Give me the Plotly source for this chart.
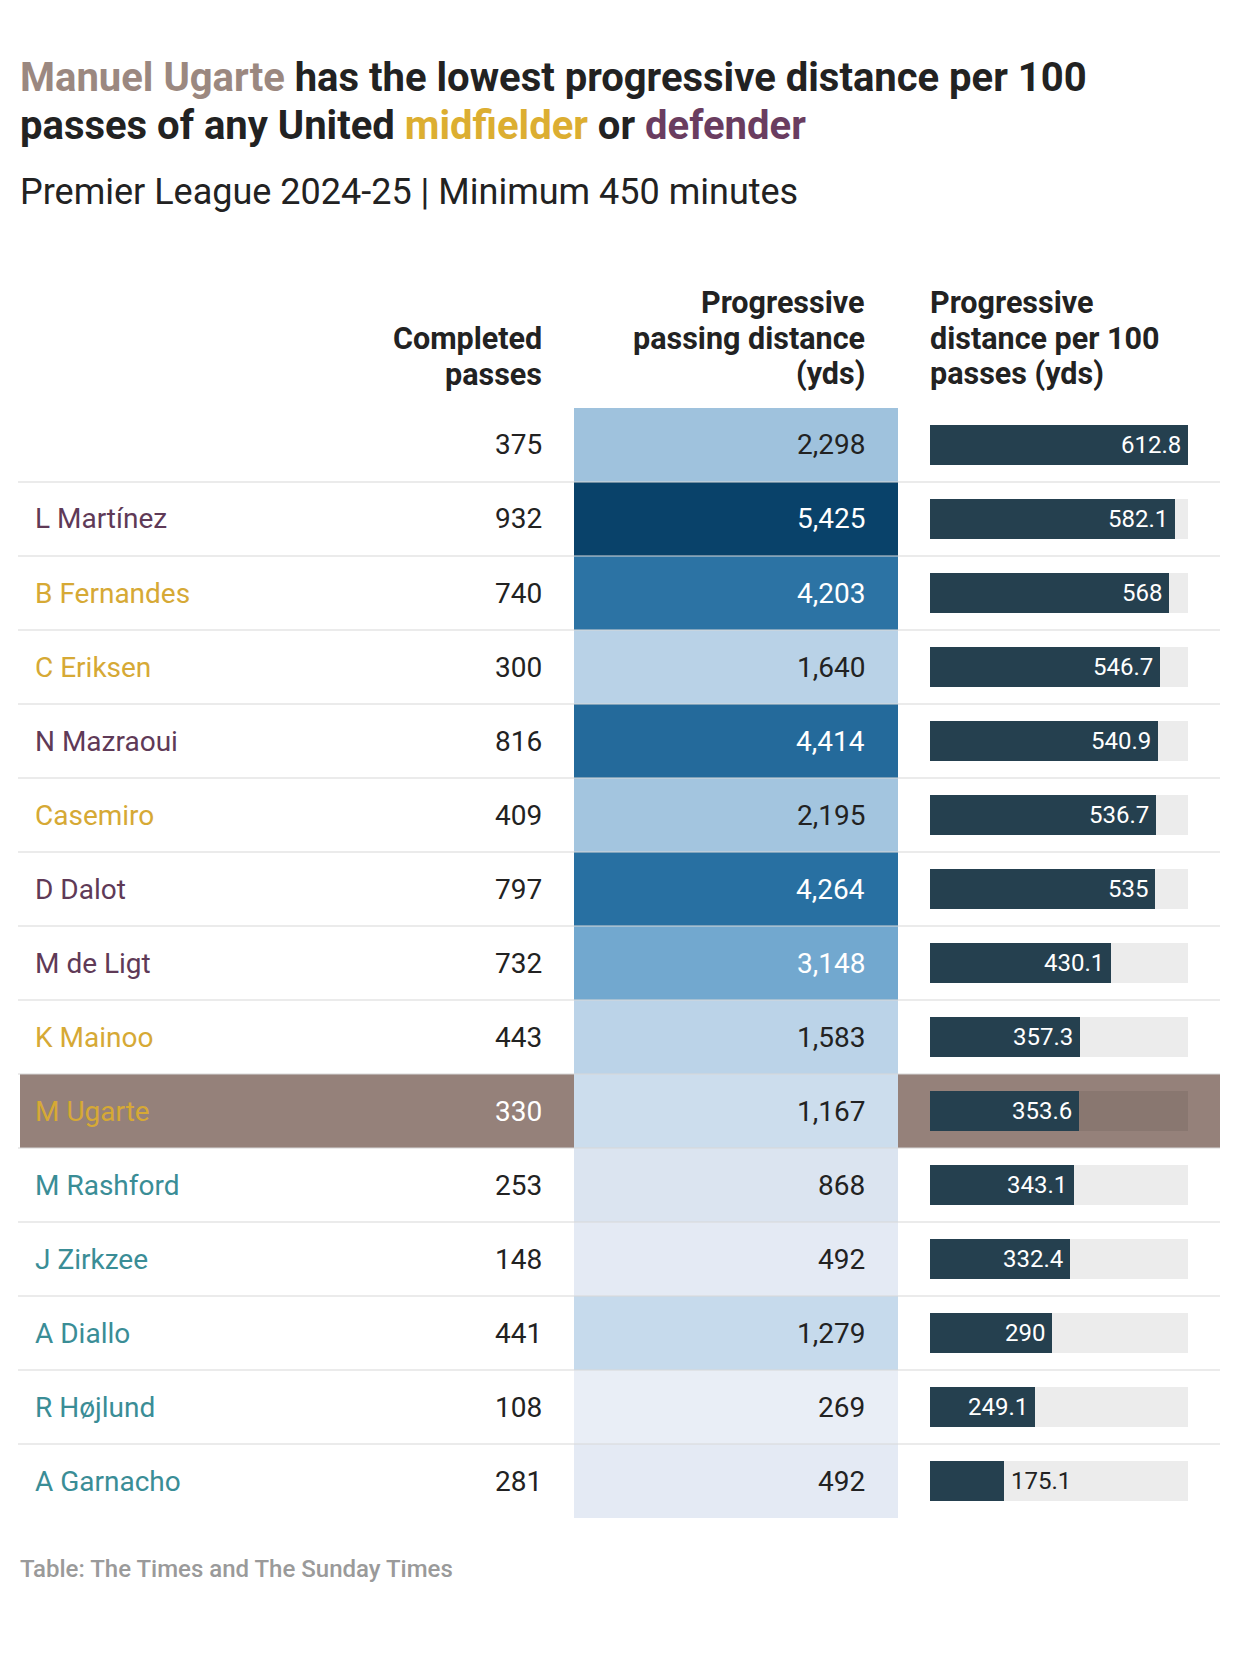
import plotly.graph_objects as go

# ---------------- data ----------------
players = ["", "L Martínez", "B Fernandes", "C Eriksen", "N Mazraoui", "Casemiro",
           "D Dalot", "M de Ligt", "K Mainoo", "M Ugarte", "M Rashford", "J Zirkzee",
           "A Diallo", "R Højlund", "A Garnacho"]
positions = ["defender", "defender", "midfielder", "midfielder", "defender", "midfielder",
             "defender", "defender", "midfielder", "midfielder", "forward", "forward",
             "forward", "forward", "forward"]
completed_passes = [375, 932, 740, 300, 816, 409, 797, 732, 443, 330, 253, 148, 441, 108, 281]
prog_distance = [2298, 5425, 4203, 1640, 4414, 2195, 4264, 3148, 1583, 1167, 868, 492, 1279, 269, 492]
prog_per100 = [612.8, 582.1, 568, 546.7, 540.9, 536.7, 535, 430.1, 357.3, 353.6, 343.1, 332.4, 290, 249.1, 175.1]
highlight_player = "M Ugarte"

title_line1 = ("<span style='color:#9b8880'>Manuel Ugarte</span> has the lowest "
               "progressive distance per 100")
title_line2 = ("passes of any United <span style='color:#dcae31'>midfielder</span> or "
               "<span style='color:#6a3d60'>defender</span>")
subtitle = "Premier League 2024-25 | Minimum 450 minutes"
header_completed = ["Completed", "passes"]
header_distance = ["Progressive", "passing distance", "(yds)"]
header_per100 = ["Progressive", "distance per 100", "passes (yds)"]
source = "Table: The Times and The Sunday Times"

# ---------------- styles ----------------
W, H = 1240, 1656
OFF = 8  # page body margin offset
FONT = "Roboto"
TEXT = "#222222"
role_colors = {"defender": "#5f3a57", "midfielder": "#d6a935", "forward": "#3a8d96"}
HL_BG = "#95817a"
BAR = "#25404f"
TRACK = "rgba(0,0,0,0.075)"
SEP = "rgba(215,215,215,0.5)"
heat_stops = [(269, "#e9eef6"), (868, "#dbe4f0"), (1279, "#c6daec"), (1640, "#b9d2e7"),
              (2298, "#9fc2dd"), (3148, "#72a8cf"), (4264, "#2870a2"), (5425, "#09426a")]

ROW_TOP, ROW_BOT = 408, 1518
X_NAME, X_COMP, X_DIST, X_BARHDR = 33, 544, 867, 928
n = len(players)
zmin, zmax = heat_stops[0][0], heat_stops[-1][0]
colorscale = [[(v - zmin) / (zmax - zmin), c] for v, c in heat_stops]


def dom_x(a, b):
    return [(a - OFF) / W, (b - OFF) / W]


fig = go.Figure()

# heatmap column
fig.add_trace(go.Heatmap(
    z=[[v] for v in prog_distance], x=[0], y=list(range(n)),
    xaxis="x2", yaxis="y2", colorscale=colorscale, zmin=zmin, zmax=zmax,
    showscale=False, hoverinfo="skip"))

# bar track + bars
bar_max = max(prog_per100)
fig.add_trace(go.Bar(x=[bar_max] * n, y=list(range(n)), orientation="h",
                     xaxis="x3", yaxis="y2", width=0.54, marker_color=TRACK,
                     marker_line_width=0, hoverinfo="skip"))
fig.add_trace(go.Bar(x=prog_per100, y=list(range(n)), orientation="h",
                     xaxis="x3", yaxis="y2", width=0.54, marker_color=BAR,
                     marker_line_width=0, hoverinfo="skip"))

shapes = []
ann = []

# highlight row
hi = players.index(highlight_player)
for x0, x1 in [(20, 574), (898, 1220)]:
    shapes.append(dict(type="rect", xref="x", yref="y2", x0=x0, x1=x1,
                       y0=hi - 0.5, y1=hi + 0.5, fillcolor=HL_BG, line_width=0,
                       layer="below"))
# separators
for i in range(n - 1):
    shapes.append(dict(type="line", xref="x", yref="y2", x0=18, x1=1220,
                       y0=i + 0.5, y1=i + 0.5, line=dict(color=SEP, width=2),
                       layer="above"))

# title / subtitle
ann.append(dict(text="<b>" + title_line1 + "</b>", x=18, y=77, xref="x", yref="y",
                xanchor="left", yanchor="middle", showarrow=False,
                font=dict(family=FONT, size=40, color=TEXT)))
ann.append(dict(text="<b>" + title_line2 + "</b>", x=18, y=125, xref="x", yref="y",
                xanchor="left", yanchor="middle", showarrow=False,
                font=dict(family=FONT, size=40, color=TEXT)))
ann.append(dict(text=subtitle, x=18, y=192, xref="x", yref="y",
                xanchor="left", yanchor="middle", showarrow=False,
                font=dict(family=FONT, size=36, color=TEXT)))

# headers
line_y = [302, 338, 374]
HS = 30.5
for k, t in enumerate(header_completed):
    ann.append(dict(text="<b>" + t + "</b>", x=X_COMP, y=line_y[k + 1], xref="x", yref="y",
                    xanchor="right", yanchor="middle", showarrow=False,
                    font=dict(family=FONT, size=HS, color=TEXT)))
for k, t in enumerate(header_distance):
    ann.append(dict(text="<b>" + t + "</b>", x=X_DIST, y=line_y[k], xref="x", yref="y",
                    xanchor="right", yanchor="middle", showarrow=False,
                    font=dict(family=FONT, size=HS, color=TEXT)))
for k, t in enumerate(header_per100):
    ann.append(dict(text="<b>" + t + "</b>", x=X_BARHDR, y=line_y[k], xref="x", yref="y",
                    xanchor="left", yanchor="middle", showarrow=False,
                    font=dict(family=FONT, size=HS, color=TEXT)))

# rows
BS = 28
for i in range(n):
    is_hi = players[i] == highlight_player
    ann.append(dict(text=players[i], x=X_NAME, y=i, xref="x", yref="y2",
                    xanchor="left", yanchor="middle", showarrow=False,
                    font=dict(family=FONT, size=BS, color=role_colors[positions[i]])))
    ann.append(dict(text=f"{completed_passes[i]:,}", x=X_COMP, y=i, xref="x", yref="y2",
                    xanchor="right", yanchor="middle", showarrow=False,
                    font=dict(family=FONT, size=BS, color="white" if is_hi else TEXT)))
    ann.append(dict(text=f"{prog_distance[i]:,}", x=X_DIST, y=i, xref="x", yref="y2",
                    xanchor="right", yanchor="middle", showarrow=False,
                    font=dict(family=FONT, size=BS,
                              color="white" if prog_distance[i] > 3000 else TEXT)))
    v = prog_per100[i]
    inside = v / bar_max > 0.33
    ann.append(dict(text=f"{v:g}", x=v, y=i, xref="x3", yref="y2",
                    xanchor="right" if inside else "left", xshift=-5 if inside else 5,
                    yanchor="middle", showarrow=False,
                    font=dict(family=FONT, size=24, color="white" if inside else TEXT)))

# source
ann.append(dict(text=source, x=18, y=1569, xref="x", yref="y",
                xanchor="left", yanchor="middle", showarrow=False,
                font=dict(family=FONT, size=24, color="#9a9a9a", weight=500)))

row_dom = [1 - (ROW_BOT - OFF) / H, 1 - (ROW_TOP - OFF) / H]
hidden = dict(visible=False, showgrid=False, zeroline=False, fixedrange=True)
fig.update_layout(
    width=W, height=H, margin=dict(l=0, r=0, t=0, b=0),
    paper_bgcolor="white", plot_bgcolor="rgba(0,0,0,0)",
    showlegend=False, barmode="overlay", bargap=0,
    xaxis=dict(range=[OFF, W + OFF], domain=[0, 1], **hidden),
    yaxis=dict(range=[H + OFF, OFF], domain=[0, 1], **hidden),
    xaxis2=dict(range=[-0.5, 0.5], domain=dom_x(574, 898), anchor="y2", **hidden),
    yaxis2=dict(range=[n - 0.5, -0.5], domain=row_dom, anchor="x2", **hidden),
    xaxis3=dict(range=[0, bar_max], domain=dom_x(930, 1188), anchor="y2", **hidden),
    shapes=shapes, annotations=ann,
)

fig.write_html("out.html")
